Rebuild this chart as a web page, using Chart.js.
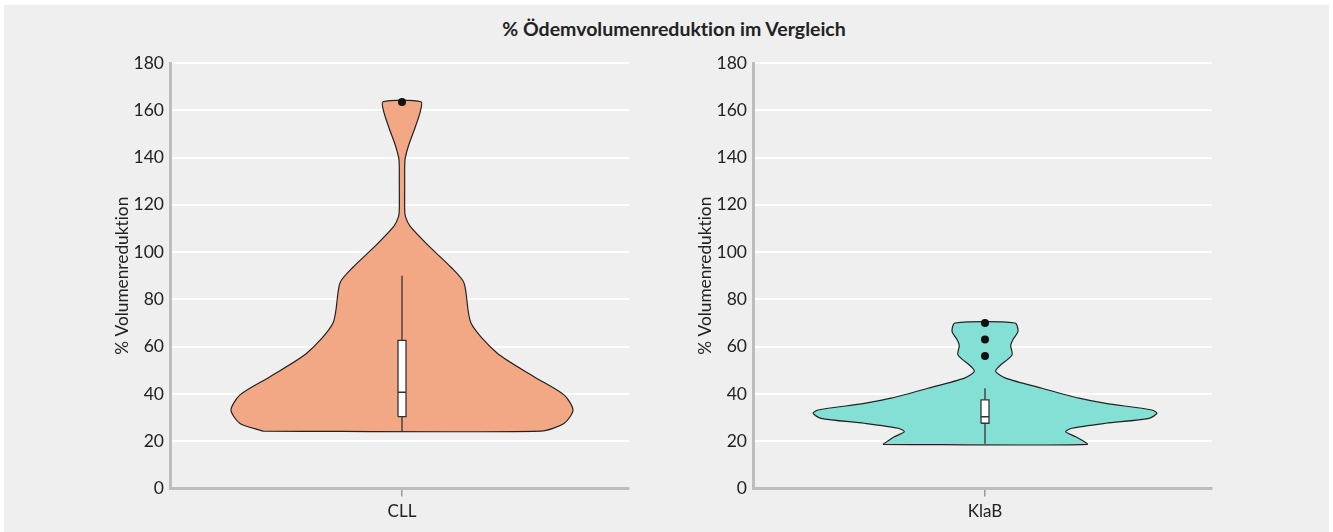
<!DOCTYPE html>
<html>
<head>
<meta charset="utf-8">
<script src="https://cdn.jsdelivr.net/npm/chart.js@4/dist/chart.umd.min.js"></script>
<style>
  html, body { margin: 0; padding: 0; background: #ffffff; }
  #panel { position: absolute; left: 4px; top: 5px; width: 1325px; height: 527px; background: #efefef; }
  #title { position: absolute; left: 374px; top: 17px; width: 600px; text-align: center;
           font: bold 19.5px Lato, "Open Sans", sans-serif; color: #222; font-variant-ligatures: none; }
  canvas { position: absolute; top: 40px; }
  #c1 { left: 0px; }
  #c2 { left: 583px; }
</style>
</head>
<body>
<div id="panel"></div>
<div id="title">% Ödemvolumenreduktion im Vergleich</div>
<canvas id="c1" width="640" height="492"></canvas>
<canvas id="c2" width="640" height="492"></canvas>
<script>
// ---- data ----
const categories = ['CLL', 'KlaB'];
const yTickValues = [0, 20, 40, 60, 80, 100, 120, 140, 160, 180];
const yAxisTitle = '% Volumenreduktion';

// violin outline: levels (y values) and density half-widths
const cllLevels = [24.3, 27.5, 33.2, 39.6, 47.3, 57.3, 70, 87, 93.6, 102.5, 111, 115, 118, 130, 139, 145, 152, 159, 163.6];
const cllWidths = [139, 162, 171, 162, 132, 95, 69, 62, 49, 27, 8, 3.5, 2.7, 2.7, 3, 6.5, 12.5, 18, 19];

const klabLevels = [18.7, 21.9, 24, 25.5, 27.6, 29.7, 31.8, 33.2, 36, 38.2, 42.4, 46.7, 49.5, 51.6, 56.5, 60.5, 63, 66.5, 70];
const klabWidths = [102, 90.7, 80.7, 87, 120.7, 164, 172, 167, 120.7, 94, 57, 20.7, 10.7, 14, 27, 25.7, 28, 33, 30];

// box plot statistics per category
const whiskerLow  = [24.3, 18.9];
const q1Values    = [30.4, 27.6];
const medians     = [40.7, 30.4];
const q3Values    = [62.7, 37.5];
const whiskerHigh = [90, 42.4];
const cllOutliers  = [163.5];
const klabOutliers = [70, 63, 56];

// ---- styling ----
const FONT = 'Lato, "Open Sans", sans-serif';
const BOX_HALF = 4;

const noLigatures = {
  id: 'noLigatures',
  beforeDraw: (chart) => { try { chart.ctx.textRendering = 'optimizeSpeed'; } catch (e) {} }
};

function violinPolygon(levels, widths) {
  const pts = [];
  for (let i = 0; i < levels.length; i++) pts.push({x: -widths[i], y: levels[i]});
  for (let i = levels.length - 1; i >= 0; i--) pts.push({x: widths[i], y: levels[i]});
  pts.push({x: -widths[0], y: levels[0]});
  return pts;
}
function boxPolygon(i) {
  return [
    {x: -BOX_HALF, y: q1Values[i]}, {x: -BOX_HALF, y: q3Values[i]},
    {x: BOX_HALF, y: q3Values[i]}, {x: BOX_HALF, y: q1Values[i]},
    {x: -BOX_HALF, y: q1Values[i]}
  ];
}

function makeChart(canvasId, idx, levels, widths, outliers, color) {
  const datasets = [
    { // outliers (drawn on top)
      data: outliers.map(v => ({x: 0, y: v})),
      showLine: false, pointRadius: 4, pointBackgroundColor: '#111', pointBorderWidth: 0
    },
    { // median
      data: [{x: -BOX_HALF, y: medians[idx]}, {x: BOX_HALF, y: medians[idx]}],
      showLine: true, borderColor: '#333', borderWidth: 1.5, pointRadius: 0
    },
    { // box
      data: boxPolygon(idx),
      showLine: true, borderColor: '#333', borderWidth: 1.3, pointRadius: 0,
      fill: 'shape', backgroundColor: '#ffffff', tension: 0
    },
    { // whisker
      data: [{x: 0, y: whiskerLow[idx]}, {x: 0, y: whiskerHigh[idx]}],
      showLine: true, borderColor: '#333', borderWidth: 1.3, pointRadius: 0
    },
    { // violin
      data: violinPolygon(levels, widths),
      showLine: true, borderColor: '#222', borderWidth: 1.2, pointRadius: 0,
      fill: 'shape', backgroundColor: color, tension: 0.25
    }
  ];
  return new Chart(document.getElementById(canvasId), {
    type: 'scatter',
    data: { datasets },
    plugins: [noLigatures],
    options: {
      responsive: false, animation: false, devicePixelRatio: 1,
      layout: { padding: { left: 112, right: 11, top: 23, bottom: 0 } },
      plugins: { legend: { display: false }, tooltip: { enabled: false } },
      scales: {
        x: {
          type: 'linear', min: -232, max: 227,
          afterBuildTicks: (axis) => { axis.ticks = [{value: 0}]; },
          afterFit: (axis) => { axis.height = 43.5; },
          ticks: { callback: () => categories[idx], color: '#222', font: { family: FONT, size: 17 }, padding: 5, maxRotation: 0 },
          grid: { drawOnChartArea: false, drawTicks: true, tickLength: 8, color: '#9a9a9a', lineWidth: 1.5 },
          border: { color: '#bdbdbd', width: 3 }
        },
        y: {
          type: 'linear', min: 0, max: 180,
          afterBuildTicks: (axis) => { axis.ticks = yTickValues.map(v => ({value: v})); },
          afterFit: (axis) => { axis.width = 58; },
          ticks: { color: '#222', font: { family: FONT, size: 17.5 }, padding: 6 },
          grid: { color: (c) => c.tick && c.tick.value === 0 ? 'rgba(0,0,0,0)' : '#ffffff', lineWidth: 2, drawTicks: false },
          border: { color: '#bdbdbd', width: 3 },
          title: { display: true, text: yAxisTitle, color: '#222', font: { family: FONT, size: 17.3 }, padding: { top: 0, bottom: 4 } }
        }
      }
    }
  });
}

makeChart('c1', 0, cllLevels, cllWidths, cllOutliers, '#f2a884');
makeChart('c2', 1, klabLevels, klabWidths, klabOutliers, '#84dfd5');
</script>
</body>
</html>
